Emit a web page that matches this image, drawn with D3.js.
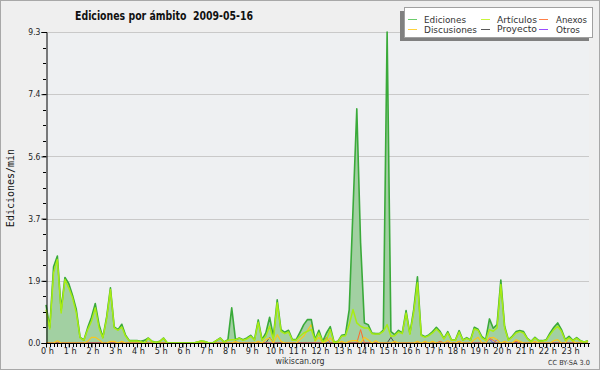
<!DOCTYPE html>
<html><head><meta charset="utf-8">
<script src="https://cdnjs.cloudflare.com/ajax/libs/d3/7.8.5/d3.min.js"></script>
<style>body{margin:0;background:#efefef}svg{display:block}</style>
</head><body>
<svg id="c" width="600" height="370"></svg>
<script>
const title = "Ediciones por ámbito  2009-05-16";
const yTitle = "Ediciones/min";
const seriesNames = ["Ediciones","Artículos","Anexos","Discusiones","Proyecto","Otros"];
const hourLabels = d3.range(24).map(h => h + " h");
const yMax = 9.3;
const yTickValues = [0, 1.86, 3.72, 5.58, 7.44, 9.3];
const yTickLabels = ["0.0","1.9","3.7","5.6","7.4","9.3"];

// one value every 10 minutes (144 points)
const ediciones = [
1.14,0.47,2.28,2.6,0.99,1.96,1.78,1.43,1.0,0.17,
0.09,0.46,0.77,1.18,0.55,0.17,0.78,1.65,0.48,0.4,
0.56,0.23,0.07,0.07,0.07,0.05,0.08,0.15,0.05,0.02,
0.05,0.15,0,0,0,0,0,0,0,0,
0.03,0.06,0.04,0,0,0.08,0.15,0.03,0.1,1.05,
0.1,0.15,0.1,0.15,0.23,0.1,0.69,0.1,0.3,0.77,
0.2,1.29,0.4,0.32,0.38,0.1,0.1,0.32,0.55,0.7,
0.7,0.1,0.38,0.05,0.3,0.49,0.03,0.05,0.23,0.25,
1.0,4.0,7.0,3.0,0.6,0.55,0.3,0.28,0.28,0.39,
9.3,0.34,0.25,0.38,0.3,0.97,0.29,0.99,1.98,0.25,
0.19,0.24,0.34,0.47,0.34,0.14,0.34,0.09,0.09,0.37,
0.09,0.16,0.09,0.47,0.41,0.19,0.1,0.72,0.44,0.55,
1.88,0.5,0.1,0.2,0.34,0.37,0.34,0.14,0.05,0.17,
0.07,0.07,0.1,0.3,0.47,0.6,0.4,0.1,0.2,0.08,
0.16,0.07,0.03,0.07];
const articulos = [
1.0,0.42,2.1,2.5,0.9,1.9,1.65,1.35,0.9,0.15,
0.08,0.4,0.65,1.05,0.45,0.15,0.72,1.6,0.45,0.38,
0.48,0.2,0.06,0.06,0.06,0.04,0,0.14,0.04,0.02,
0.04,0.14,0,0,0,0,0,0,0,0,
0.03,0.06,0.04,0,0,0.08,0.14,0.03,0.08,0.1,
0.1,0.14,0.08,0.12,0.2,0.08,0.62,0.08,0.2,0.5,
0.1,1.2,0.35,0.28,0.33,0.08,0.08,0.2,0.3,0.35,
0.4,0.08,0.3,0.04,0.1,0.4,0.02,0.04,0.2,0.22,
0.55,1.0,0.6,0.5,0.45,0.45,0.28,0.27,0.27,0.35,
0.55,0.2,0.22,0.33,0.28,0.9,0.26,0.9,1.8,0.22,
0.17,0.22,0.3,0.42,0.3,0.12,0.3,0.08,0.08,0.33,
0.08,0.14,0.08,0.42,0.38,0.15,0.08,0.4,0.35,0.45,
1.75,0.45,0.08,0.18,0.3,0.34,0.3,0.12,0.04,0.15,
0.06,0.06,0.08,0.25,0.4,0.5,0.35,0.08,0.15,0.07,
0.14,0.06,0.03,0.06];
const anexos = [
0,0,0,0,0,0,0,0,0,0, 0,0,0,0,0,0,0,0,0,0,
0,0,0,0,0,0,0,0,0,0, 0,0,0,0,0,0,0,0,0,0,
0,0,0,0,0,0,0,0,0,0, 0,0,0,0,0,0,0,0,0,0,
0,0,0,0,0,0,0,0,0,0, 0,0,0,0,0.17,0,0,0,0,0,
0,0,0,0.4,0,0,0,0,0,0, 0,0,0,0,0,0,0,0,0,0,
0,0,0,0,0.05,0,0,0,0,0.05, 0,0,0,0,0,0,0,0.15,0.08,0,
0,0,0,0,0.05,0,0,0,0,0, 0,0,0,0,0,0,0,0,0,0,
0,0,0,0];
const discusiones = [
0,0,0,0.07,0,0,0,0,0,0, 0,0.05,0.17,0.17,0.1,0,0,0.05,0.05,0,
0.05,0,0,0,0,0,0,0,0,0, 0,0,0,0,0,0,0,0,0,0,
0,0,0,0,0,0,0,0,0,0, 0.05,0,0,0,0,0,0.05,0,0.1,0.15,
0,0.25,0.05,0,0,0,0,0.1,0.2,0.38, 0.55,0.05,0.17,0,0.05,0.15,0,0,0.05,0,
0.05,0.07,0.07,0,0.17,0.1,0,0.07,0,0, 0,0,0.05,0,0,0,0,0,0.05,0,
0.05,0,0.05,0,0,0,0.07,0,0,0.05, 0,0,0,0.1,0.17,0,0,0.15,0.17,0.1,
0,0.05,0,0,0.1,0.05,0,0,0,0.05, 0,0,0,0,0.07,0.1,0,0,0.17,0.05,
0,0,0,0];
const proyecto = [
0,0,0,0,0,0,0,0,0,0, 0,0,0,0,0,0,0,0,0,0,
0,0,0,0,0,0,0.08,0,0,0, 0,0,0,0,0,0,0,0,0,0,
0,0,0,0,0,0,0,0,0,0, 0,0,0,0,0,0,0,0,0,0.17,
0,0,0,0,0,0,0,0,0,0, 0,0,0,0,0,0,0,0,0,0,
0,0,0,0,0,0,0,0,0,0, 0,0.17,0,0,0,0,0,0,0,0,
0,0,0,0,0,0,0,0,0,0, 0,0,0,0,0,0,0,0,0,0,
0,0,0,0,0,0,0,0,0,0, 0,0,0,0,0,0,0,0,0,0,
0,0,0,0];
const otros = [
0,0,0,0,0,0,0,0,0,0, 0,0,0,0,0,0,0,0,0,0,
0,0,0,0,0,0,0,0,0,0, 0,0,0,0,0,0,0,0,0,0,
0,0,0,0,0,0,0,0,0,0, 0,0,0,0,0,0,0,0,0,0,
0,0,0,0,0,0,0,0,0,0, 0,0,0,0,0,0,0,0,0,0,
0,0,0,0,0,0,0,0,0,0, 0,0,0,0,0,0,0,0,0,0,
0,0,0,0,0,0,0,0,0,0, 0,0,0,0,0,0,0,0.12,0,0.1,
0,0,0,0,0,0,0,0,0,0, 0,0,0,0,0,0,0,0,0,0,
0,0,0,0];

const colors = {
  "Ediciones":"#3aaa3a","Artículos":"#a8ec14","Anexos":"#ff6a2a",
  "Discusiones":"#f7c81e","Proyecto":"#505050","Otros":"#8a2ef0"};
const legendColors = {
  "Ediciones":"#6ccc6c","Artículos":"#c8f53a","Anexos":"#ff8048",
  "Discusiones":"#ffd23c","Proyecto":"#5a5a5a","Otros":"#9a4cff"};

const svg = d3.select("#c");
const W = 600, H = 370;
const L = 46, R = 588, T = 32, B = 343;
const n = ediciones.length;
const x = d3.scaleLinear().domain([0, n - 1]).range([L, R]);
const y = d3.scaleLinear().domain([0, yMax]).range([B, T]);
const COND = "DejaVu Sans Condensed, DejaVu Sans";

svg.append("rect").attr("x",0.5).attr("y",0.5).attr("width",W-1).attr("height",H-1)
  .attr("fill","#efefef").attr("stroke","#a8a8a8");
svg.append("rect").attr("x",L).attr("y",T).attr("width",R-L+1).attr("height",B-T)
  .attr("fill","#eef0f2");

// grid
svg.append("g").selectAll("line").data(yTickValues.slice(1)).join("line")
  .attr("x1",L).attr("x2",R+1).attr("y1",d=>Math.round(y(d))+0.5).attr("y2",d=>Math.round(y(d))+0.5)
  .attr("stroke","#c9c9c9").attr("stroke-width",1);

// area
const area = d3.area().x((d,i)=>x(i)).y0(y(0)).y1(d=>y(d));
svg.append("path").datum(ediciones).attr("d",area).attr("fill","#a2d0a2");

const line = d3.line().x((d,i)=>x(i)).y(d=>y(d));
const drawOrder = [["Otros",otros,1],["Proyecto",proyecto,1],["Anexos",anexos,1],["Discusiones",discusiones,1.2],["Ediciones",ediciones,1.6],["Artículos",articulos,1.5]];
drawOrder.forEach(([name,data,w])=>{
  svg.append("path").datum(data).attr("d",line).attr("fill","none")
    .attr("stroke",colors[name]).attr("stroke-width",w).attr("stroke-linejoin","round");
});

// y axis
const yAxis = d3.axisLeft(y).tickValues(yTickValues).tickSize(5).tickFormat((d,i)=>yTickLabels[i]);
const gy = svg.append("g").attr("transform",`translate(${L+0.5},0)`).call(yAxis);
gy.select(".domain").attr("stroke","#000");
gy.selectAll(".tick line").attr("stroke","#000");
gy.selectAll(".tick text").attr("font-family",COND).attr("font-size",8.5).attr("fill","#222").attr("x",-6);
const yMinor = d3.range(0,21).map(k=>k*yMax/20);
svg.append("g").selectAll("line").data(yMinor).join("line")
  .attr("x1",L-3).attr("x2",L).attr("y1",d=>Math.round(y(d))+0.5).attr("y2",d=>Math.round(y(d))+0.5)
  .attr("stroke","#000");

// x axis
const xAxis = d3.axisBottom(x).tickValues(d3.range(0,24).map(h=>h*6)).tickSize(4).tickFormat((d,i)=>hourLabels[i]);
const gx = svg.append("g").attr("transform",`translate(0,${B+0.5})`).call(xAxis);
gx.select(".domain").attr("stroke","#000").attr("d",`M${L},0H${R+2}`);
gx.selectAll(".tick line").attr("stroke","#000");
gx.selectAll(".tick text").attr("font-family",COND).attr("font-size",9).attr("fill","#222")
  .attr("y",4).attr("dy","0.71em").attr("dx",1);
svg.append("g").selectAll("line").data(d3.range(0,n)).join("line")
  .attr("x1",d=>Math.round(x(d))+0.5).attr("x2",d=>Math.round(x(d))+0.5).attr("y1",B).attr("y2",B+4)
  .attr("stroke","#000");

// titles
svg.append("text").attr("x",75).attr("y",20).text(title).style("white-space","pre")
  .attr("font-family",COND).attr("font-weight","bold").attr("font-size",12.5)
  .attr("textLength",178).attr("lengthAdjust","spacingAndGlyphs").attr("fill","#111");
svg.append("text").attr("transform","translate(14,188) rotate(-90)").attr("text-anchor","middle")
  .text(yTitle).attr("font-family","DejaVu Sans Mono").attr("font-size",10).attr("fill","#111");
svg.append("text").attr("x",300).attr("y",364).attr("text-anchor","middle").text("wikiscan.org")
  .attr("font-family",COND).attr("font-size",9.5).attr("fill","#333")
  .attr("textLength",49).attr("lengthAdjust","spacingAndGlyphs");
svg.append("text").attr("x",548).attr("y",365).text("CC BY-SA 3.0")
  .attr("font-family",COND).attr("font-size",7).attr("fill","#333")
  .attr("textLength",42).attr("lengthAdjust","spacingAndGlyphs");

// legend
svg.append("rect").attr("x",400).attr("y",11).attr("width",189).attr("height",30).attr("fill","#808080");
svg.append("rect").attr("x",404.5).attr("y",7.5).attr("width",188).attr("height",30)
  .attr("fill","#fff").attr("stroke","#a0a0a0");
const legendPos = [
  {name:"Ediciones", lx:408, ly:19, tx:424, ty:22.5, w:42},
  {name:"Artículos", lx:481, ly:19, tx:497, ty:22.5, w:40},
  {name:"Anexos", lx:539, ly:19, tx:556, ty:22.5, w:31},
  {name:"Discusiones", lx:408, ly:29, tx:424, ty:33, w:53},
  {name:"Proyecto", lx:481, ly:29, tx:497, ty:32, w:40},
  {name:"Otros", lx:539, ly:29, tx:556, ty:33, w:24}];
const lg = svg.append("g");
legendPos.forEach(p=>{
  lg.append("line").attr("x1",p.lx).attr("x2",p.lx+9).attr("y1",p.ly+0.5).attr("y2",p.ly+0.5)
    .attr("stroke",legendColors[p.name]).attr("stroke-width",1);
  lg.append("text").attr("x",p.tx).attr("y",p.ty).text(p.name)
    .attr("font-family",COND).attr("font-size",9).attr("fill","#333")
    .attr("textLength",p.w).attr("lengthAdjust","spacingAndGlyphs");
});
</script>
</body></html>
